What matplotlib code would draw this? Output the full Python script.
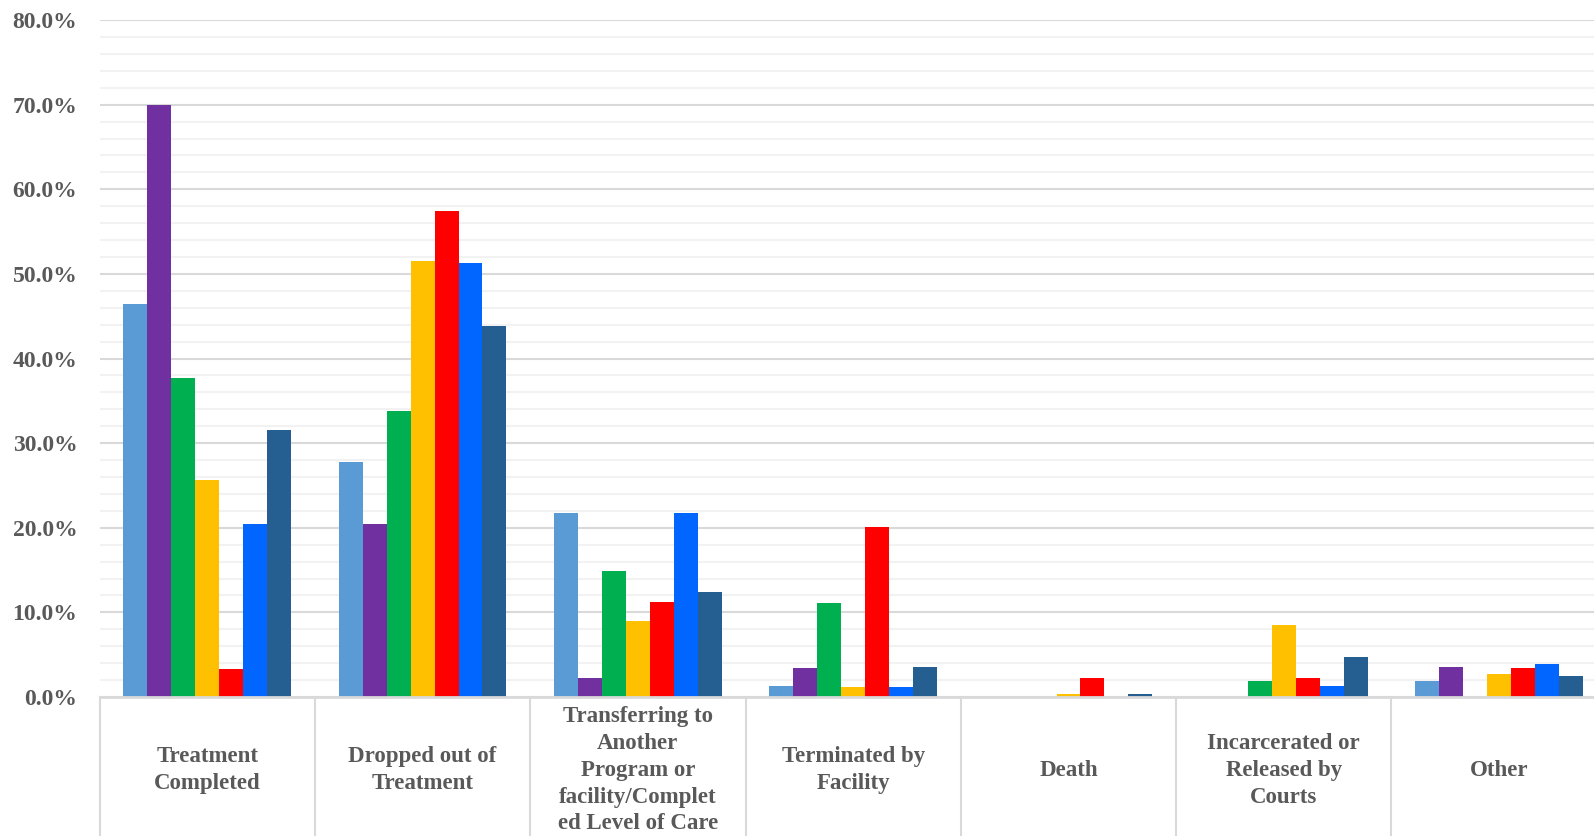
import numpy as np
import matplotlib.pyplot as plt
from matplotlib.ticker import MultipleLocator, FuncFormatter
from matplotlib.transforms import blended_transform_factory

categories = ["Treatment\nCompleted", "Dropped out of\nTreatment",
              "Transferring to\nAnother\nProgram or\nfacility/Complet\ned Level of Care",
              "Terminated by\nFacility", "Death",
              "Incarcerated or\nReleased by\nCourts", "Other"]

# percent of discharges, one list per series (no legend in the original)
series_1 = [46.4, 27.8, 21.7, 1.3, 0.0, 0.0, 1.9]
series_2 = [70.0, 20.4, 2.2, 3.4, 0.0, 0.0, 3.6]
series_3 = [37.7, 33.8, 14.9, 11.1, 0.0, 1.9, 0.0]
series_4 = [25.7, 51.5, 9.0, 1.15, 0.3, 8.5, 2.7]
series_5 = [3.3, 57.4, 11.2, 20.1, 2.3, 2.3, 3.45]
series_6 = [20.4, 51.3, 21.7, 1.15, 0.0, 1.35, 3.9]
series_7 = [31.6, 43.8, 12.4, 3.6, 0.3, 4.7, 2.5]

all_series = [series_1, series_2, series_3, series_4, series_5, series_6, series_7]
colors = ["#5B9BD5", "#7030A0", "#00B050", "#FFC000", "#FF0000", "#0066FF", "#255E91"]

txt_color = "#595959"
font = "Liberation Serif"

fig = plt.figure(figsize=(15.94, 8.36), dpi=100)
# the original chart runs past the right edge of the picture, so the axes do too
ax = fig.add_axes([0.0625, 0.1663, 0.9455, 0.8097])

x = np.arange(len(categories))
group_w = 0.779
bar_w = group_w / len(all_series)
for i, (vals, c) in enumerate(zip(all_series, colors)):
    offs = -group_w / 2 + bar_w * (i + 0.5)
    ax.bar(x + offs, vals, width=bar_w, color=c, zorder=3)

ax.set_xlim(-0.5, len(categories) - 0.5)
ax.set_ylim(0, 80)
ax.yaxis.set_major_locator(MultipleLocator(10))
ax.yaxis.set_minor_locator(MultipleLocator(2))
ax.yaxis.set_major_formatter(FuncFormatter(lambda v, p: f"{v:.1f}%"))
ax.grid(which="minor", axis="y", color="#F2F2F2", linewidth=1.5, zorder=0)
ax.grid(which="major", axis="y", color="#D9D9D9", linewidth=1.5, zorder=1)
ax.tick_params(axis="y", which="both", length=0, pad=16, labelsize=17,
               labelcolor=txt_color)
ax.tick_params(axis="x", length=0, labelbottom=False)
for lab in ax.get_yticklabels():
    lab.set_fontfamily(font)
    lab.set_fontweight("bold")

for s in ["top", "right", "left"]:
    ax.spines[s].set_visible(False)
ax.spines["bottom"].set_color("#D9D9D9")
ax.spines["bottom"].set_linewidth(2)
ax.spines["bottom"].set_zorder(4)

# category label "table" below the axis
trans = blended_transform_factory(ax.transData, fig.transFigure)
axis_y = 0.1663
for b in np.arange(-0.5, len(categories), 1.0):
    ax.plot([b, b], [0.0, axis_y], transform=trans, color="#D9D9D9",
            linewidth=1.5, clip_on=False, zorder=4)
for i, lab in enumerate(categories):
    ax.text(i, 0.0785, lab, transform=trans, ha="center", va="center",
            multialignment="center", fontsize=16.5, fontfamily=font,
            fontweight="bold", color=txt_color, linespacing=1.36)

fig.savefig("out.png", dpi=100)
